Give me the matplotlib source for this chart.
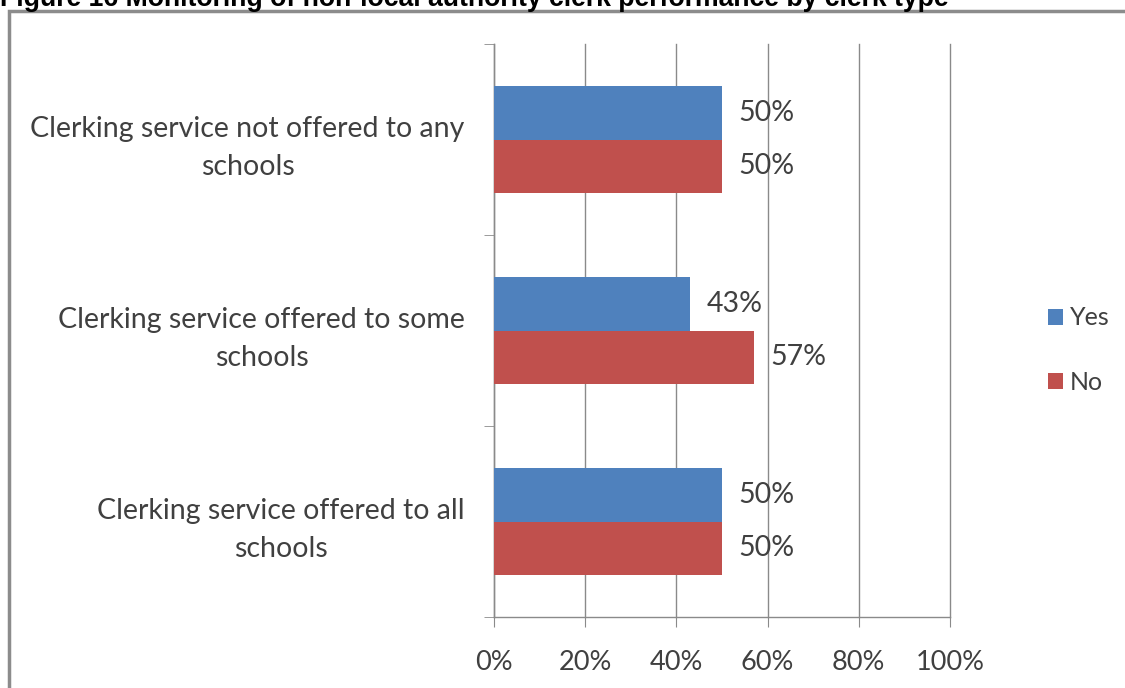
import matplotlib.pyplot as plt
from matplotlib.patches import Rectangle

plt.rcParams['font.family'] = ['Lato', 'DejaVu Sans']

categories = ['Clerking service not offered to any\nschools',
              'Clerking service offered to some\nschools',
              'Clerking service offered to all\nschools']
yes_vals = [50, 43, 50]
no_vals = [50, 57, 50]
x_ticks = [0, 20, 40, 60, 80, 100]

text_col = '#404040'
grid_col = '#8a8a8a'

fig = plt.figure(figsize=(11.25, 6.88), dpi=100)
ax = fig.add_axes([494 / 1125, 1 - 617 / 688, 456 / 1125, 573 / 688])

# top category first
pos = [2, 1, 0]
h = 0.28
yes_bars = ax.barh([p + h / 2 for p in pos], yes_vals, height=h, color='#4f81bd', label='Yes', zorder=3)
no_bars = ax.barh([p - h / 2 for p in pos], no_vals, height=h, color='#c0504d', label='No', zorder=3)

for bars, vals in [(yes_bars, yes_vals), (no_bars, no_vals)]:
    for b, v in zip(bars, vals):
        ax.annotate(f'{v}%', (v, b.get_y() + b.get_height() / 2), xytext=(12, 0),
                    textcoords='offset points', va='center', ha='left',
                    fontsize=20.5, color=text_col, zorder=4)

ax.set_xlim(0, 100)
ax.set_ylim(-0.5, 2.5)
ax.set_xticks(x_ticks)
ax.set_xticklabels([f'{t}%' for t in x_ticks], fontsize=19.5, color=text_col)
ax.tick_params(axis='x', length=7, color=grid_col, pad=17)
ax.xaxis.grid(True, color=grid_col, linewidth=1, zorder=0)
for gl in ax.get_xgridlines():
    gl.set_clip_on(False)

ax.set_yticks(pos)
ax.set_yticklabels(categories, fontsize=20.5, color=text_col, multialignment='center',
                   linespacing=1.55)
ax.tick_params(axis='y', which='major', length=0, pad=21)
ax.set_yticks([-0.5, 0.5, 1.5, 2.5], minor=True)
ax.tick_params(axis='y', which='minor', length=7, color=grid_col)

for s in ['top', 'right']:
    ax.spines[s].set_visible(False)
for s in ['left', 'bottom']:
    ax.spines[s].set_color(grid_col)
    ax.spines[s].set_linewidth(1)

fig.legend(handles=[yes_bars, no_bars], loc='center left',
           bbox_to_anchor=(1035 / 1125, 1 - 350 / 688), frameon=False,
           fontsize=18, labelcolor=text_col, handlelength=0.6, handleheight=0.6,
           handletextpad=0.3, labelspacing=1.65, borderpad=0)

# chart border and caption
fig.patches.append(Rectangle((9 / 1125, -0.05), 1.1, 1.05 - 11 / 688, transform=fig.transFigure,
                             fill=False, edgecolor='#8c8c8c', linewidth=2.5))
fig.text(0, 1 - 6 / 688, 'Figure 16 Monitoring of non-local authority clerk performance by clerk type',
         fontsize=19.2, fontweight='bold', family='Liberation Sans', color='black',
         va='baseline', ha='left')

fig.savefig('out.png', dpi=100)
